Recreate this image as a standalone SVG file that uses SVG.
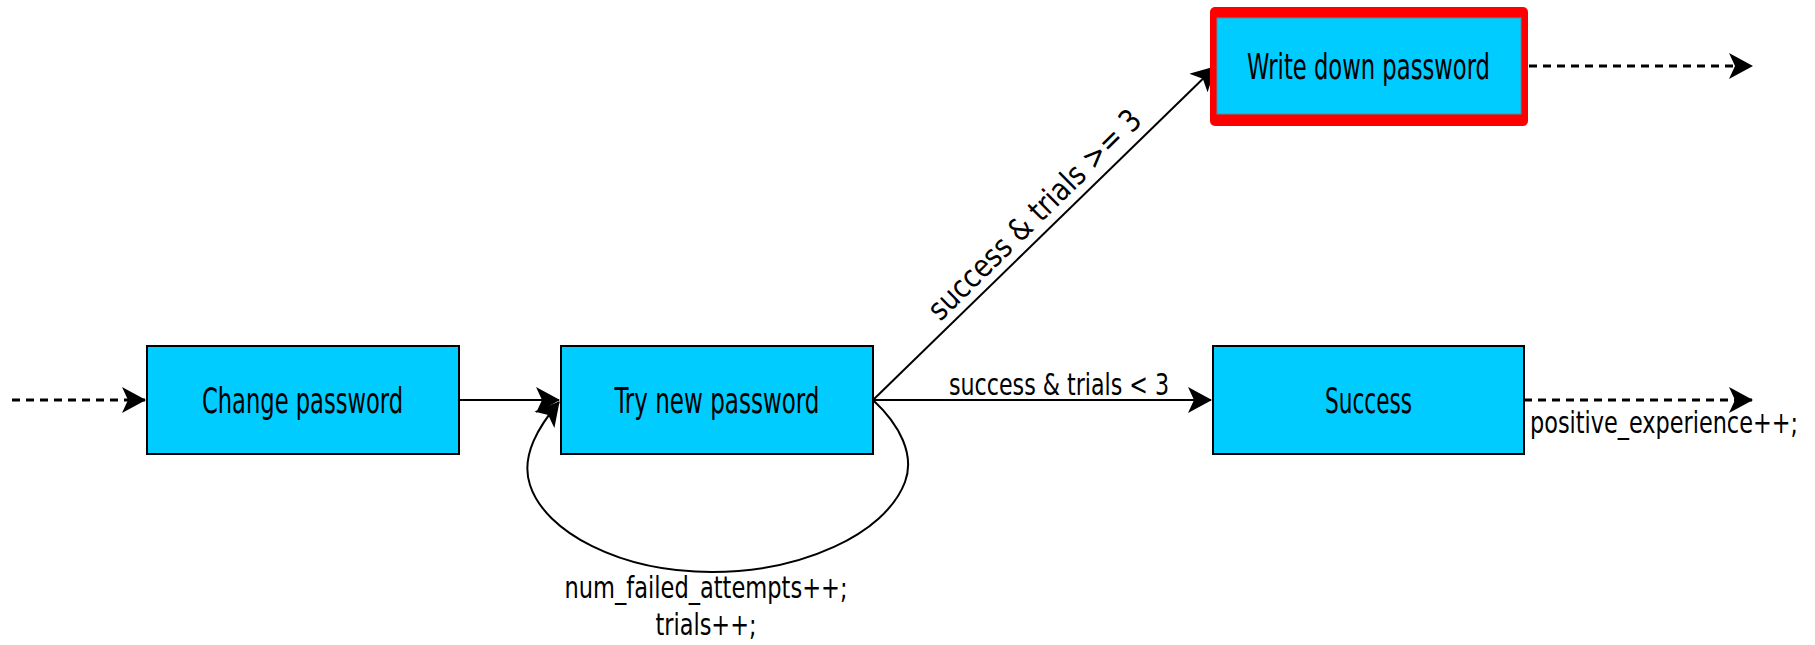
<svg xmlns="http://www.w3.org/2000/svg" width="1815" height="645" viewBox="0 0 1815 645">
  <style>
    .box { fill: #00ccff; stroke: #000; stroke-width: 2; }
    .boxtext { font-family: "DejaVu Sans Condensed", "DejaVu Sans", sans-serif; font-size: 36px; fill: #000; text-anchor: middle; }
    .label { font-family: "DejaVu Sans Condensed", "DejaVu Sans", sans-serif; font-size: 31px; fill: #000; }
    .edge { fill: none; stroke: #000; stroke-width: 2; }
    .dashed { fill: none; stroke: #000; stroke-width: 3; stroke-dasharray: 8 6; }
  </style>
  <defs>
    <marker id="arrow" markerUnits="userSpaceOnUse" viewBox="0 0 24 26" refX="23" refY="13" markerWidth="24" markerHeight="26" orient="auto">
      <path d="M0,0 L24,13 L0,26 L6,13 Z" fill="#000"/>
    </marker>
  </defs>

  <rect width="1815" height="645" fill="#fff"/>

  <!-- transitions -->
  <g id="connectors">
    <line class="dashed" x1="12" y1="400" x2="145" y2="400" marker-end="url(#arrow)"/>
    <line class="edge" x1="459" y1="400" x2="559" y2="400" marker-end="url(#arrow)"/>
    <line class="edge" x1="873" y1="400" x2="1211" y2="400" marker-end="url(#arrow)"/>
    <line class="edge" x1="873" y1="400" x2="1215" y2="67" marker-end="url(#arrow)"/>
    <path class="edge" d="M873,400 C900,425 915,455 905,482 C885,535 800,572 712,572 C620,572 545,532 530,485 C520,455 540,425 559,402" marker-end="url(#arrow)"/>
    <line class="dashed" x1="1529" y1="66" x2="1752" y2="66" marker-end="url(#arrow)"/>
    <line class="dashed" x1="1524" y1="400" x2="1752" y2="400" marker-end="url(#arrow)"/>

    <text class="label" x="1059" y="395" text-anchor="middle" textLength="220" lengthAdjust="spacingAndGlyphs">success &amp; trials &lt; 3</text>
    <text class="label" transform="translate(1042,222) rotate(-44.5)" x="0" y="0" text-anchor="middle" textLength="285" lengthAdjust="spacingAndGlyphs">success &amp; trials &gt;= 3</text>
    <text class="label" x="706" y="598" text-anchor="middle" textLength="283" lengthAdjust="spacingAndGlyphs">num_failed_attempts++;</text>
    <text class="label" x="706" y="635" text-anchor="middle" textLength="101" lengthAdjust="spacingAndGlyphs">trials++;</text>
    <text class="label" x="1530" y="433" textLength="268" lengthAdjust="spacingAndGlyphs">positive_experience++;</text>
  </g>

  <g id="change-password">
    <rect class="box" x="147" y="346" width="312" height="108"/>
    <text class="boxtext" x="302.5" y="413" textLength="201" lengthAdjust="spacingAndGlyphs">Change password</text>
  </g>

  <g id="try-new-password">
    <rect class="box" x="561" y="346" width="312" height="108"/>
    <text class="boxtext" x="717" y="413" textLength="205" lengthAdjust="spacingAndGlyphs">Try new password</text>
  </g>

  <g id="success">
    <rect class="box" x="1213" y="346" width="311" height="108"/>
    <text class="boxtext" x="1368.5" y="413" textLength="87" lengthAdjust="spacingAndGlyphs">Success</text>
  </g>

  <g id="write-down-password">
    <rect x="1210" y="7" width="318" height="119" rx="5" fill="#ff0000"/>
    <rect x="1217" y="18" width="304" height="96" fill="#00ccff" stroke="#4f8fa6" stroke-width="1"/>
    <text class="boxtext" x="1368.5" y="79" textLength="243" lengthAdjust="spacingAndGlyphs">Write down password</text>
  </g>
</svg>
